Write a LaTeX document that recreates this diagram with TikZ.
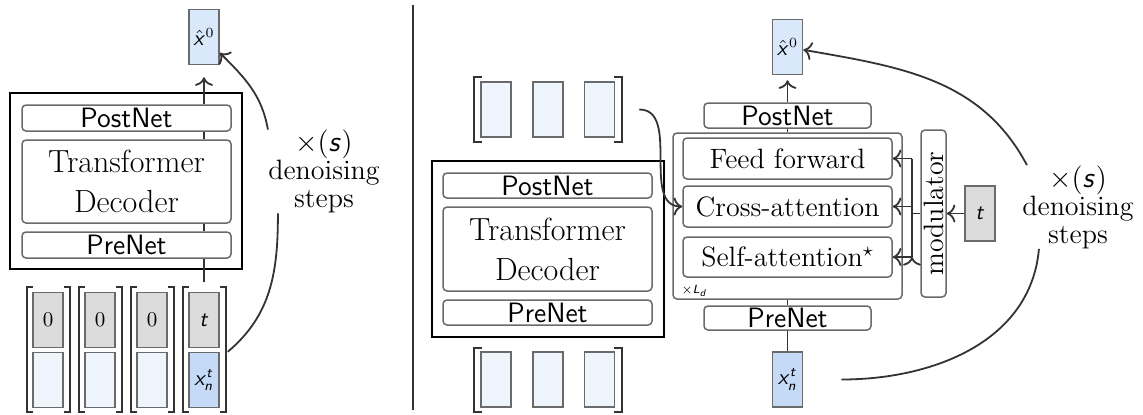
\documentclass[tikz,border=0pt]{standalone}
\usetikzlibrary{positioning, arrows.meta}
\DeclareMathAlphabet{\mathsfit}{OT1}{cmss}{m}{sl}
\definecolor{bordergray}{HTML}{6A6A6A}
\definecolor{linegray}{HTML}{333333}
\definecolor{vecfill}{HTML}{EEF5FD}
\definecolor{outfill}{HTML}{DAE8FC}
\definecolor{infill}{HTML}{C4DAF6}
\definecolor{tfill}{HTML}{DCDCDC}
\tikzset{
  blk/.style={draw=bordergray, rounded corners=2pt, line width=0.75pt, fill=white, inner sep=0pt},
  vec/.style={draw=bordergray, line width=0.75pt, inner sep=0pt, minimum width=15pt,
    minimum height=27.5pt, font=\fontsize{10.5}{12}\selectfont},
  outer/.style={draw=black, line width=0.9pt, inner sep=0pt},
  conn/.style={draw=linegray, line width=0.9pt},
  brk/.style={draw=linegray, line width=0.9pt},
  sans/.style={font=\fontsize{14}{16}\selectfont\sffamily},
  serif/.style={font=\fontsize{14}{16}\selectfont},
  big/.style={font=\fontsize{16}{20}\selectfont, align=center},
  txt/.style={align=center, inner sep=0pt, font=\fontsize{14}{14}\selectfont}
}
\begin{document}
\begin{tikzpicture}[x=0.5pt, y=-0.5pt, >={To[scale=1.2]}]
    \useasboundingbox (0,0) rectangle (1143,414);

    % single pass
    \node (outL) [outer, minimum width=116pt, minimum height=88pt] at (126,181) {};
    \node (postL) [blk, sans, minimum width=104.5pt, minimum height=13pt] at (126.5,118) {PostNet};
    \node (decL) [blk, big, minimum width=104.5pt, minimum height=41.5pt] at (126.5,181.5) {Transformer\\Decoder};
    \node (preL) [blk, sans, minimum width=104.5pt, minimum height=13pt] at (126.5,245) {PreNet};
    \node (xhatL) [vec, fill=outfill] at (204,37) {$\hat{\mathsfit{x}}^0$};

    \foreach \i/\x in {1/48,2/100,3/152} {
        \node (tL\i) [vec, fill=tfill] at (\x,320) {0};
        \node (xL\i) [vec, fill=vecfill] at (\x,380) {};
    }
    \node (tL4) [vec, fill=tfill] at (204,320) {$\mathsfit{t}$};
    \node (xL4) [vec, fill=infill] at (204,380) {$\mathsfit{x}_{\mathsfit{n}}^{\mathsfit{t}}$};
    \foreach \x in {48,100,152,204} {
        \draw [brk] (\x-15,287) -- (\x-21,287) -- (\x-21,412) -- (\x-15,412);
        \draw [brk] (\x+16,287) -- (\x+22,287) -- (\x+22,412) -- (\x+16,412);
    }

    \coordinate [above=5pt of tL4] (inL);
    \draw [conn] (inL) -- (inL |- preL.south)
                 (inL |- preL.north) -- (inL |- decL.south)
                 (inL |- decL.north) -- (inL |- postL.south);
    \draw [conn, ->, shorten >=6pt] (inL |- postL.north) -- (xhatL);

    \node (stepsL) [txt] at (324,171.5) {$\times(\mathsfit{s})$\\denoising\\steps};
    \coordinate (loopL) at ([xshift=4pt]xL4.north east);
    \draw [conn] (loopL) to[out=40, in=-90] ([xshift=5pt]stepsL.south west);
    \draw [conn, ->] (stepsL.north west) to[out=100, in=-45] (xhatL);

    \draw [conn] (413,5) -- (413,410);

    % cross-attention decoder
    \foreach \i/\x in {1/496,2/548,3/599.5} {
        \node (m\i) [vec, fill=vecfill] at (\x,109.5) {};
        \node (o\i) [vec, fill=vecfill] at (\x,379.5) {};
    }
    \draw [brk] (482,77) -- (474,77) -- (474,142) -- (482,142);
    \draw [brk] (614,77) -- (622,77) -- (622,142) -- (614,142);
    \draw [brk] (482,348) -- (474,348) -- (474,412) -- (482,412);
    \draw [brk] (614,348) -- (622,348) -- (622,412) -- (614,412);

    \node (outR) [outer, minimum width=116pt, minimum height=88pt] at (548,249) {};
    \node (postM) [blk, sans, minimum width=104.5pt, minimum height=12.5pt] at (547.5,185.5) {PostNet};
    \node (decM) [blk, big, minimum width=104.5pt, minimum height=42pt] at (547.5,249) {Transformer\\Decoder};
    \node (preM) [blk, sans, minimum width=104.5pt, minimum height=12.5pt] at (547.5,312.5) {PreNet};

    \node (stack) [blk, minimum width=114.5pt, minimum height=83pt] at (787.5,216) {};
    \node (ff) [blk, serif, minimum width=104.5pt, minimum height=20.5pt] at (787.5,158.5) {Feed forward};
    \node (cross) [blk, serif, minimum width=104.5pt, minimum height=20.5pt] at (787.5,206.5) {Cross-attention};
    \node (self) [blk, serif, minimum width=104.5pt, minimum height=20pt] at (787.5,257) {Self-attention$^\star$};
    \node (ld) [anchor=west, inner sep=0pt, font=\fontsize{6}{7}\selectfont] at (681,291) {$\times\mathsfit{L}_{\mathsfit{d}}$};
    \node (postR) [blk, sans, minimum width=83.5pt, minimum height=12.5pt] at (787.5,115.5) {PostNet};
    \node (preR) [blk, sans, minimum width=83.5pt, minimum height=12pt] at (787.5,318) {PreNet};
    \node (xhatR) [vec, fill=outfill] at (787.5,47) {$\hat{\mathsfit{x}}^0$};
    \node (xR) [vec, fill=infill] at (787.5,379.5) {$\mathsfit{x}_{\mathsfit{n}}^{\mathsfit{t}}$};
    \node (mod) [blk, serif, rotate=90, minimum width=83.5pt, minimum height=12.5pt] at (933.5,213.5) {modulator};
    \node (tR) [vec, fill=tfill] at (980,213.5) {$\mathsfit{t}$};

    \path [conn] (xR) edge (preR)
                 (preR) edge (stack)
                 (stack) edge (postR);
    \path [conn, ->] (postR) edge[shorten >=2.5pt] (xhatR)
                     (tR) edge (mod);

    \coordinate (trunk) at (912,213.5);
    \draw [conn] (mod) -- (trunk);
    \draw [conn] (trunk |- ff) -- (trunk |- self);
    \path [conn, ->] (trunk |- ff) edge (ff.east)
                     (trunk |- cross) edge (cross.east)
                     (trunk |- self) edge (self.east);

    \coordinate [right=12pt of m3] (memout);
    \draw [conn, ->] (memout) to[out=0, in=180] (cross.west);

    \node (stepsR) [txt] at (1078,207) {$\times(\mathsfit{s})$\\denoising\\steps};
    \coordinate [right=19pt of xR] (loopR);
    \draw [conn] (loopR) to[out=0, in=-95] ([xshift=8.5pt]stepsR.south west);
    \draw [conn, ->] ([xshift=2.5pt]stepsR.north west) to[out=118, in=-10] (xhatR);
\end{tikzpicture}
\end{document}
